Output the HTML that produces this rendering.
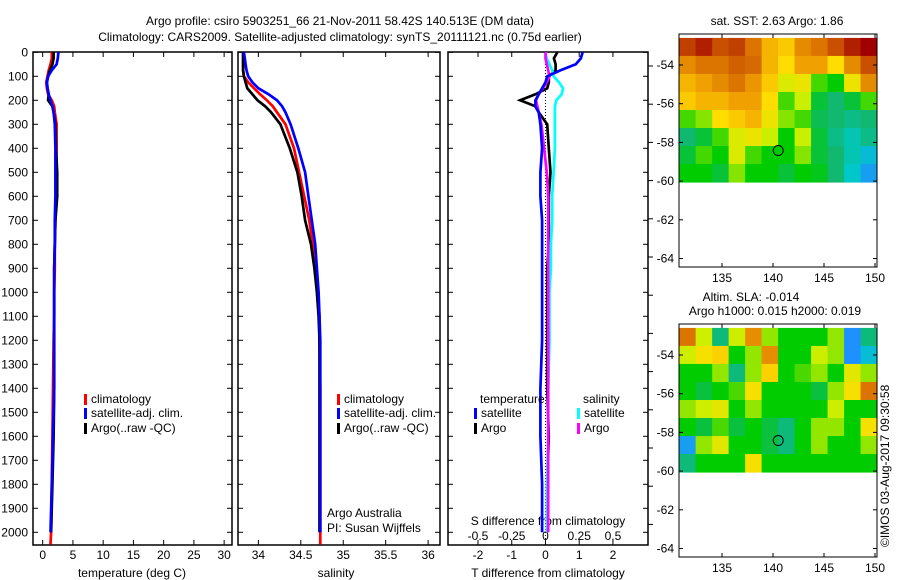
<!DOCTYPE html>
<html><head><meta charset="utf-8"><style>
body{margin:0;background:#fff}
svg{display:block;font-family:"Liberation Sans",sans-serif;font-size:12px}
</style></head><body>
<svg id="c" width="900" height="580" viewBox="0 0 900 580">
<text x="340" y="25" text-anchor="middle">Argo profile: csiro 5903251_66 21-Nov-2011 58.42S 140.513E (DM data)</text>
<text x="340" y="41" text-anchor="middle">Climatology: CARS2009. Satellite-adjusted climatology: synTS_20111121.nc (0.75d earlier)</text>
<text x="777" y="25" text-anchor="middle">sat. SST: 2.63 Argo: 1.86</text>
<text x="751" y="301" text-anchor="middle">Altim. SLA: -0.014</text>
<text x="775" y="315" text-anchor="middle">Argo h1000: 0.015 h2000: 0.019</text>
<text transform="translate(889,547) rotate(-90)">©IMOS 03-Aug-2017 09:30:58</text>
</svg>
<script>
const depths=[0,25,50,75,100,125,150,175,200,225,250,300,400,500,600,700,800,900,1000,1100,1200,1400,1600,1800,2000,2050];
const tempClim=[1.5,1.5,1.3,1.0,0.8,0.6,0.7,0.9,1.5,1.9,2.0,2.3,2.3,2.2,2.2,2.1,2.0,2.0,1.9,1.9,1.8,1.7,1.6,1.5,1.4,1.3];
const tempSat=[2.6,2.5,2.3,1.5,0.9,0.7,0.8,1.0,1.3,1.6,1.8,2.0,2.1,2.1,2.1,2.0,2.0,1.9,1.9,1.9,1.9,1.9,1.7,1.5,1.3,null];
const tempArgo=[1.8,1.8,1.6,1.2,0.9,0.7,0.8,1.0,0.9,1.6,1.8,2.1,2.2,2.4,2.4,2.1,2.0,1.9,1.9,1.9,1.9,1.9,1.8,1.6,1.4,null];
const salClim=[33.82,33.82,33.82,33.82,33.83,33.88,33.95,34.02,34.1,34.17,34.22,34.32,34.42,34.48,34.54,34.6,34.64,34.67,34.7,34.72,34.72,34.73,34.73,34.73,34.73,34.73];
const salSat=[33.83,33.84,33.85,33.86,33.88,33.93,34.0,34.12,34.22,34.28,34.32,34.38,34.47,34.55,34.59,34.63,34.67,34.69,34.71,34.72,34.73,34.73,34.73,34.73,34.73,null];
const salArgo=[33.82,33.82,33.82,33.82,33.83,33.85,33.87,33.93,33.99,34.08,34.15,34.26,34.37,34.46,34.51,34.55,34.62,34.66,34.69,34.71,34.72,34.72,34.72,34.72,34.72,null];
const dTSat=[1.1,1.05,0.9,0.45,0.05,0,-0.1,-0.2,-0.3,-0.3,-0.2,-0.15,-0.1,-0.15,-0.15,-0.1,-0.1,-0.1,-0.1,-0.1,-0.1,-0.15,-0.15,-0.1,-0.1,null];
const dTArgo=[0.35,0.25,0.3,0.3,0.1,0.1,0.05,-0.3,-0.75,-0.3,-0.2,0.05,0.1,0.15,0.1,0.1,0.1,0.05,0.05,0.05,0.05,0.05,0.1,0.05,0.05,null];
const dSSat=[0,0.01,0.03,0.05,0.06,0.1,0.13,0.12,0.08,0.07,0.07,0.07,0.07,0.06,0.05,0.05,0.04,0.04,0.03,0.03,0.03,0.02,0.02,0.01,0.01,null];
const dSArgo=[0,0,0.01,0.02,0.03,0.01,-0.02,-0.05,-0.07,-0.06,-0.05,-0.03,-0.01,0.01,0.02,0.02,0.02,0.02,0.02,0.02,0.02,0.02,0.02,0.02,0.02,null];
const depthTicks=[0,100,200,300,400,500,600,700,800,900,1000,1100,1200,1300,1400,1500,1600,1700,1800,1900,2000];
const tempTicks=[0,5,10,15,20,25,30];
const salTicks=[34,34.5,35,35.5,36];
const salTickLabels=["34","34.5","35","35.5","36"];
const dTTicks=[-2,-1,0,1,2];
const dSTicks=[-0.5,-0.25,0,0.25,0.5];
const sstGrid=[
[4.6,4.8,4.5,4.6,4.2,3.6,3.4,4,4.2,4.5,4.8,5],
[4,4.2,4.2,4.4,4.3,3.6,3.2,3.8,3.8,3.2,4,4.5],
[3.6,3.8,4,4.2,3.9,3.4,2.8,3,2.2,2,3,4],
[3.4,3.6,3.6,3.8,3.8,3.2,2.2,2.6,1.8,1.6,1.8,2.2],
[2.2,2.4,3.2,3.4,3.6,3.0,2.4,2.2,1.7,1.6,1.5,1.6],
[1.6,1.8,2.2,2.8,3,2.6,2,2.6,1.8,1.5,1.3,1.5],
[1.8,2.2,2,2.8,2.2,2,2,2.4,1.8,1.6,1.3,1.1],
[2,2,1.8,2.4,2,2,1.8,2,1.9,1.6,1.2,0.9]];
const slaGrid=[
[1,0.3,-0.2,0.3,0.9,0.2,0,0,0,0.2,-0.6,-0.2],
[0.3,0.5,0.6,0,0.2,0.9,0,0,0.3,0.2,-1.1,-0.4],
[0,0,0.2,-0.2,0.2,0.6,0,0.1,0.2,0,0.4,0.2],
[0,-0.1,0,0.1,0.5,0,0,0,-0.1,0.2,0.5,1],
[0.2,0.3,0.4,0,0.2,0,0,0,0,0.3,0,0],
[0,-0.1,0.1,-0.1,0,-0.1,-0.2,0,0.2,0.2,0,0.5],
[-0.5,0.2,0.4,0,0,-0.1,-0.2,0,0.2,0,0,0.2],
[-0.2,0,0,0,0.5,0,0,0,0,0,0,0]];
const latTicks=[-54,-56,-58,-60,-62,-64];
const lonTicks=[135,140,145,150];
const argoLon=140.513, argoLat=-58.42;

const svg=document.getElementById('c');
const NS='http://www.w3.org/2000/svg';
function mk(tag,attrs,parent){const e=document.createElementNS(NS,tag);for(const k in attrs)e.setAttribute(k,attrs[k]);(parent||svg).appendChild(e);return e;}
const Y=d=>52.3+d*0.2400;
const Y0=52,Y1=545;

function panel(name,x0,x1,xmin,xmax){
  const X=v=>x0+(v-xmin)/(xmax-xmin)*(x1-x0);
  const g=mk('g',{});
  
  
  mk('rect',{x:x0,y:Y0,width:x1-x0,height:Y1-Y0,fill:'none',stroke:'#000','stroke-width':1.5},g);
  depthTicks.forEach(d=>{mk('line',{x1:x0,x2:x0+5,y1:Y(d),y2:Y(d),stroke:'#000'},g);mk('line',{x1:x1,x2:x1-5,y1:Y(d),y2:Y(d),stroke:'#000'},g);});
  return {g,X};
}
function series(g,X,vals,color,name){
  let d='';let started=false;
  vals.forEach((v,i)=>{if(v===null)return;d+=(started?'L':'M')+X(v).toFixed(1)+' '+Y(depths[i]).toFixed(1);started=true;});
  const p=mk('path',{d,fill:'none',stroke:color,'stroke-width':2.7},g);
  
  
}
function legend(g,x,y,color,label,name){
  mk('rect',{x:x,y:y-9,width:3,height:11,fill:color},g);
  const t=mk('text',{x:x+7,y:y},g);t.textContent=label;
  
  
}
depthTicks.forEach(d=>{const t=mk('text',{x:28,y:Y(d)+4,'text-anchor':'end'});t.textContent=d;

});

let p=panel('temperature-panel',33,232,-1.6,31.3);
tempTicks.forEach(v=>{mk('line',{x1:p.X(v),x2:p.X(v),y1:Y0,y2:Y0+5,stroke:'#000'},p.g);mk('line',{x1:p.X(v),x2:p.X(v),y1:Y1,y2:Y1-5,stroke:'#000'},p.g);
 const t=mk('text',{x:p.X(v),y:559,'text-anchor':'middle'},p.g);t.textContent=v;});
series(p.g,p.X,tempClim,'#ff0000','temp-climatology-line');
series(p.g,p.X,tempArgo,'#000000','temp-argo-line');
series(p.g,p.X,tempSat,'#0000ff','temp-satellite-line');
legend(p.g,84,403,'#f00','climatology','legend-climatology');
legend(p.g,84,417,'#00f','satellite-adj. clim.','legend-satellite');
legend(p.g,84,432,'#000','Argo(..raw -QC)','legend-argo');
let t=mk('text',{x:132,y:577,'text-anchor':'middle'},p.g);t.textContent='temperature (deg C)';

p=panel('salinity-panel',238,440,33.76,36.14);
salTicks.forEach((v,i)=>{mk('line',{x1:p.X(v),x2:p.X(v),y1:Y0,y2:Y0+5,stroke:'#000'},p.g);mk('line',{x1:p.X(v),x2:p.X(v),y1:Y1,y2:Y1-5,stroke:'#000'},p.g);
 const t=mk('text',{x:p.X(v),y:559,'text-anchor':'middle'},p.g);t.textContent=salTickLabels[i];});
series(p.g,p.X,salClim,'#ff0000','sal-climatology-line');
series(p.g,p.X,salArgo,'#000000','sal-argo-line');
series(p.g,p.X,salSat,'#0000ff','sal-satellite-line');
legend(p.g,337,403,'#f00','climatology','legend-climatology');
legend(p.g,337,417,'#00f','satellite-adj. clim.','legend-satellite');
legend(p.g,337,432,'#000','Argo(..raw -QC)','legend-argo');
t=mk('text',{x:327,y:517},p.g);t.textContent='Argo Australia';
t=mk('text',{x:327,y:532},p.g);t.textContent='PI: Susan Wijffels';
t=mk('text',{x:336,y:577,'text-anchor':'middle'},p.g);t.textContent='salinity';

p=panel('difference-panel',448,648,-2.89,3.04);
const XS=s=>p.X(s*4);
mk('line',{x1:p.X(0),x2:p.X(0),y1:Y0,y2:Y1,stroke:'#000','stroke-dasharray':'1,2'},p.g);
dTTicks.forEach(v=>{mk('line',{x1:p.X(v),x2:p.X(v),y1:Y0,y2:Y0+5,stroke:'#000'},p.g);mk('line',{x1:p.X(v),x2:p.X(v),y1:Y1,y2:Y1-5,stroke:'#000'},p.g);
 const t=mk('text',{x:p.X(v),y:559,'text-anchor':'middle'},p.g);t.textContent=v;});
dSTicks.forEach(v=>{const t=mk('text',{x:XS(v),y:540,'text-anchor':'middle'},p.g);t.textContent=v;});
t=mk('text',{x:548,y:525,'text-anchor':'middle'},p.g);t.textContent='S difference from climatology';
series(p.g,p.X,dTArgo,'#000000','dT-argo-line');
series(p.g,XS,dSSat,'#00ffff','dS-satellite-line');
series(p.g,XS,dSArgo,'#ff00ff','dS-argo-line');
series(p.g,p.X,dTSat,'#0000ff','dT-satellite-line');
t=mk('text',{x:480,y:403},p.g);t.textContent='temperature';
t=mk('text',{x:583,y:403},p.g);t.textContent='salinity';
legend(p.g,474,417,'#00f','satellite','legend-t-satellite');
legend(p.g,474,432,'#000','Argo','legend-t-argo');
legend(p.g,577,417,'#0ff','satellite','legend-s-satellite');
legend(p.g,577,432,'#f0f','Argo','legend-s-argo');
t=mk('text',{x:548,y:577,'text-anchor':'middle'},p.g);t.textContent='T difference from climatology';
for(let yy=66;yy<545;yy+=38.2){mk('line',{x1:648,x2:653,y1:yy,y2:yy,stroke:'#000'},p.g);}

function sstColor(v){
 const stops=[[0.8,[30,144,255]],[1.2,[0,200,200]],[1.6,[16,184,112]],[2,[0,204,0]],[2.6,[200,240,0]],[3.2,[255,221,0]],[3.8,[240,160,0]],[4.4,[208,96,0]],[5,[160,0,0]]];
 if(v<=stops[0][0])return 'rgb('+stops[0][1]+')';
 for(let i=1;i<stops.length;i++){if(v<=stops[i][0]){const a=stops[i-1],b=stops[i],f=(v-a[0])/(b[0]-a[0]);return 'rgb('+a[1].map((c,k)=>Math.round(c+(b[1][k]-c)*f))+')';}}
 return 'rgb('+stops[stops.length-1][1]+')';
}
function slaColor(v){return sstColor(2+v*2.2);}
function map(name,top,grid,colorFn){
 const x0=679,x1=877,bot=top+233;
 const LX=lon=>722+(lon-135)*10.2;
 const LY=lat=>top+31+(-54-lat)*19.35;
 const g=mk('g',{});
 
 
 const rows=grid.length,cols=grid[0].length;
 const latTop=-52.6,latBot=-60.05,lonL=130.8,lonR=150.2;
 for(let r=0;r<rows;r++)for(let c=0;c<cols;c++){
  const xa=LX(lonL+(lonR-lonL)*c/cols),xb=LX(lonL+(lonR-lonL)*(c+1)/cols);
  const ya=LY(latTop+(latBot-latTop)*r/rows),yb=LY(latTop+(latBot-latTop)*(r+1)/rows);
  const cell=mk('rect',{x:xa,y:ya,width:xb-xa+0.5,height:yb-ya+0.5,fill:colorFn(grid[r][c])},g);
  
  
 }
 mk('rect',{x:x0,y:top,width:x1-x0,height:bot-top,fill:'none',stroke:'#000'},g);
 latTicks.forEach(l=>{mk('line',{x1:x0,x2:x0+4,y1:LY(l),y2:LY(l),stroke:'#000'},g);mk('line',{x1:x1,x2:x1-4,y1:LY(l),y2:LY(l),stroke:'#000'},g);
  const t=mk('text',{x:674,y:LY(l)+4,'text-anchor':'end'},g);t.textContent=l;});
 lonTicks.forEach(l=>{mk('line',{x1:LX(l),x2:LX(l),y1:top,y2:top+4,stroke:'#000'},g);mk('line',{x1:LX(l),x2:LX(l),y1:bot,y2:bot-4,stroke:'#000'},g);
  const t=mk('text',{x:LX(l),y:bot+15,'text-anchor':'middle'},g);t.textContent=l;});
 const m=mk('circle',{cx:LX(argoLon),cy:LY(argoLat),r:5,fill:'none',stroke:'#000'},g);
 
 
}
map('sst-map',34,sstGrid,sstColor);
map('sla-map',324,slaGrid,slaColor);
</script>
</body></html>
